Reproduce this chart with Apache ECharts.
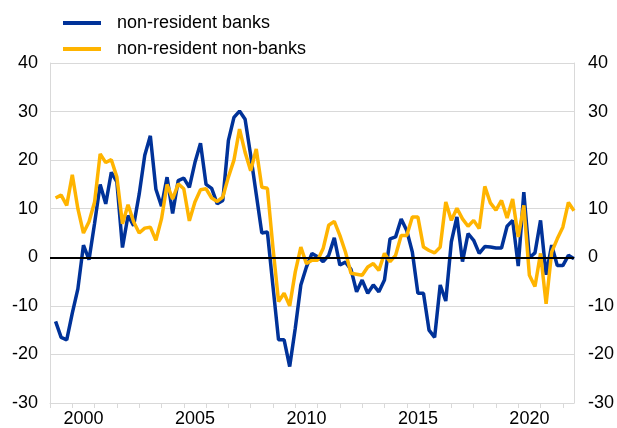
<!DOCTYPE html>
<html>
<head>
<meta charset="utf-8">
<script src="https://cdn.jsdelivr.net/npm/echarts@6/dist/echarts.min.js"></script>
<style>
  html, body { margin: 0; padding: 0; background: #fff; }
  #chart { width: 617px; height: 428px; }
</style>
</head>
<body>
<div id="chart"></div>
<script>
// quarterly data, 1999Q1 - 2022Q2
const firstYear = 1999
const quarters = []
for (let y = 1999; y <= 2022; y++) {
  for (let q = 1; q <= 4; q++) {
    if (y === 2022 && q > 2) break
    quarters.push(y + 'Q' + q)
  }
}

// non-resident banks
const banks = [
  -13.2, -16.5, -17, -11.5, -6.5, 2.5, -0.5, 7, 15, 11,
  17.5, 15.5, 2, 8.6, 6.5, 13, 21, 25, 14, 10.5,
  16.5, 9, 15.8, 16.3, 14.4, 19.5, 23.5, 15, 14.2, 11,
  11.7, 24, 28.8, 30.1, 28.4, 21, 13, 5, 5.2, -6,
  -17, -17, -22.5, -14.6, -5.7, -2, 0.8, 0.1, -0.9, 0.4,
  4, -1.6, -1, -2.5, -7.1, -4.7, -7.4, -5.7, -7.1, -4.7,
  3.8, 4.2, 7.9, 5.5, 1.1, -7.4, -7.4, -15, -16.5, -5.7,
  -9, 3.2, 8.3, -0.9, 4.9, 3.5, 0.8, 2.2, 2.1, 1.9,
  1.9, 6.4, 7.6, -1.8, 13.4, -0.1, 0.9, 7.6, -3.6, 2.5,
  -1.7, -1.7, 0.4, -0.3
]

// non-resident non-banks
const nonBanks = [
  12.2, 12.8, 10.7, 17, 10, 5, 7.3, 11.4, 21.3, 19.5,
  20.1, 16.5, 6.9, 10.8, 7.3, 5, 6, 6.2, 3.5, 7.9,
  15, 12, 15.1, 14.1, 7.5, 11.4, 13.9, 14.1, 12.2, 11.5,
  12.4, 16.5, 20, 26.4, 21.6, 17.8, 22.3, 14.4, 14.2, 2,
  -9.1, -7.4, -10, -3, 2.1, -1.3, -0.6, -0.6, 1.8, 6.6,
  7.4, 4.5, 1.1, -3.3, -3.5, -3.7, -2, -1.3, -2.7, 0.8,
  -0.9, 0.4, 4.5, 4.5, 8.3, 8.3, 2.1, 1.4, 0.9, 2.1,
  11.4, 7.6, 10.1, 7.9, 6.4, 7.6, 5.9, 14.6, 11.2, 9.7,
  11.7, 8.1, 12, 4.2, 10.7, -3.7, -6, 0.8, -9.6, 1.1,
  3.8, 6.2, 11.3, 9.6
]

const yearTicks = []
for (let y = 1999; y <= 2022; y++) yearTicks.push(y)
const yearLabels = [2000, 2005, 2010, 2015, 2020]

// quarter label -> position at end of quarter
const toX = (label) => {
  let year = +label.slice(0, 4)
  let q = +label.slice(5)
  return year + q / 4
}

const font = 'Liberation Sans, Arial, sans-serif'
const grey = '#d9d9d9'

const yAxisBase = {
  type: 'value',
  min: -30,
  max: 40,
  interval: 10,
  axisLine: { show: true, lineStyle: { color: grey, width: 1 } },
  axisTick: { show: false },
  axisLabel: { color: '#000', fontSize: 18, fontFamily: font }
}

const chart = echarts.init(document.getElementById('chart'), null, { renderer: 'canvas' })
chart.setOption({
  animation: false,
  backgroundColor: '#fff',
  grid: { left: 50, right: 40, top: 63, bottom: 23, containLabel: false },
  legend: {
    orient: 'vertical',
    left: 58,
    top: 9,
    itemWidth: 38,
    itemHeight: 4,
    itemGap: 8,
    icon: 'rect',
    textStyle: { color: '#000', fontSize: 18, fontFamily: font, padding: [0, 0, 0, 11] },
    data: ['non-resident banks', 'non-resident non-banks']
  },
  xAxis: {
    type: 'value',
    min: firstYear,
    max: 2022.5,
    axisLine: { show: true, onZero: false, lineStyle: { color: grey, width: 1 } },
    axisTick: { show: true, customValues: yearTicks, length: 5, lineStyle: { color: grey } },
    axisLabel: {
      customValues: yearLabels.map(y => y + 0.5),
      formatter: v => String(Math.floor(v)),
      color: '#000', fontSize: 18, fontFamily: font, margin: 7
    },
    splitLine: { show: false }
  },
  yAxis: [
    Object.assign({}, yAxisBase, {
      position: 'left',
      splitLine: { show: true, lineStyle: { color: grey, width: 1 } },
      axisLabel: Object.assign({}, yAxisBase.axisLabel, { margin: 12 })
    }),
    Object.assign({}, yAxisBase, {
      position: 'right',
      splitLine: { show: false },
      axisLabel: Object.assign({}, yAxisBase.axisLabel, { margin: 14 })
    })
  ],
  series: [
    {
      name: 'non-resident banks',
      type: 'line',
      data: quarters.map((q, i) => [toX(q), banks[i]]),
      showSymbol: false,
      lineStyle: { color: '#003299', width: 3.5 },
      itemStyle: { color: '#003299' },
      z: 3,
      markLine: {
        silent: true,
        symbol: 'none',
        label: { show: false },
        lineStyle: { color: '#000', width: 2, type: 'solid' },
        data: [{ yAxis: 0 }]
      }
    },
    {
      name: 'non-resident non-banks',
      type: 'line',
      data: quarters.map((q, i) => [toX(q), nonBanks[i]]),
      showSymbol: false,
      lineStyle: { color: '#ffb400', width: 3.5 },
      itemStyle: { color: '#ffb400' },
      z: 4
    }
  ]
})
</script>
</body>
</html>
